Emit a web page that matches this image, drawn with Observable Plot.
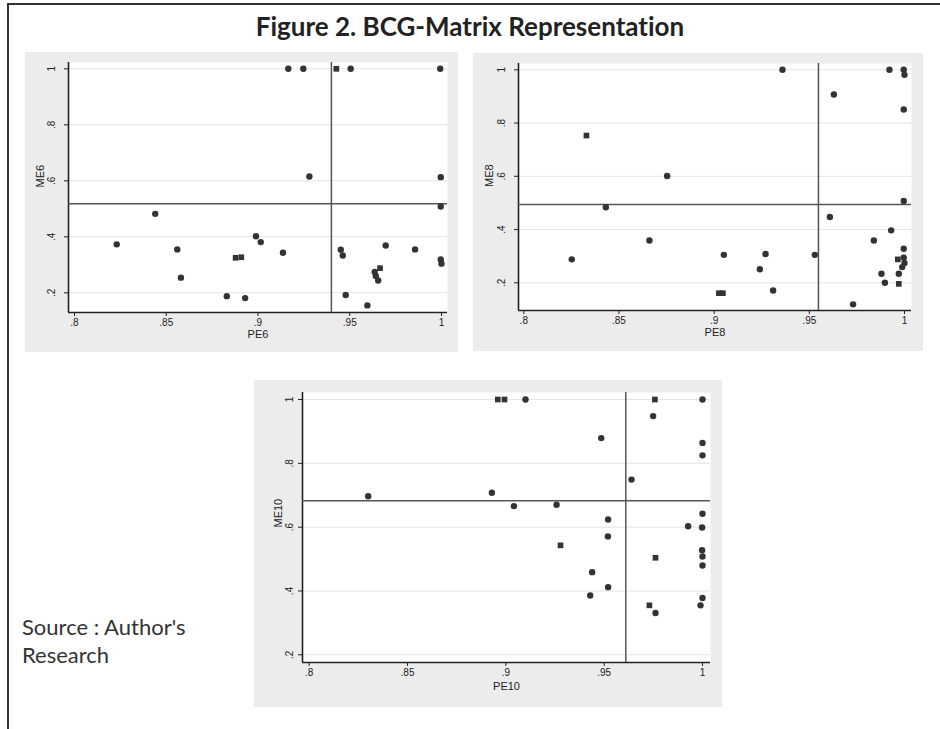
<!DOCTYPE html>
<html><head><meta charset="utf-8">
<script src="https://cdn.jsdelivr.net/npm/d3@7"></script>
<script src="https://cdn.jsdelivr.net/npm/@observablehq/plot@0.6"></script>
<style>
html,body{margin:0;padding:0;background:#fff}
body{width:940px;height:729px;overflow:hidden;position:relative}
#border{position:absolute;left:7px;top:3px;width:1000px;height:800px;border-left:2.5px solid #333;border-top:2.5px solid #333}
#title{position:absolute;left:0;top:12px;width:940px;text-align:center;font:bold 26px Lato,sans-serif;line-height:28px;color:#222;font-variant-ligatures:none}
#src{position:absolute;left:22px;top:613px;font:22px Lato,sans-serif;line-height:28px;color:#333}
.panel{position:absolute}
</style></head>
<body>
<div id="border"></div>
<div id="title">Figure 2. BCG-Matrix Representation</div>
<div id="p1" class="panel" style="left:25px;top:52px"></div>
<div id="p2" class="panel" style="left:473px;top:53px"></div>
<div id="p3" class="panel" style="left:254px;top:380px"></div>
<div id="src">Source : Author's<br>Research</div>
<script>
// Tick labels
const xTicks = [0.8, 0.85, 0.9, 0.95, 1];
const yTicks = [0.2, 0.4, 0.6, 0.8, 1];

// Panel 1: PE6 vs ME6
const pe6 = [0.9165,0.9247,0.9427,0.9505,0.9993,0.928,0.9996,0.9996,0.844,0.823,0.856,0.858,0.883,0.893,0.8878,0.8909,0.8989,0.9015,0.9136,0.9451,0.9462,0.9478,0.9596,0.9636,0.9665,0.9642,0.9655,0.9696,0.9856,0.9996,1.0];
const me6 = [1,1,1,1,1,0.6155,0.613,0.508,0.482,0.373,0.355,0.254,0.188,0.181,0.325,0.327,0.402,0.381,0.343,0.354,0.333,0.192,0.155,0.274,0.288,0.26,0.244,0.369,0.355,0.319,0.304];
const sym6 = ["circle","circle","square","circle","circle","circle","circle","circle","circle","circle","circle","circle","circle","circle","square","square","circle","circle","circle","circle","circle","circle","circle","circle","square","circle","circle","circle","circle","circle","circle"];
const cut6 = {pe: 0.94, me: 0.518};

// Panel 2: PE8 vs ME8
const pe8 = [0.9359,0.9921,0.9996,1.0,0.9629,0.9996,0.8329,0.8753,0.8431,0.9996,0.9608,0.866,0.993,0.9839,0.8252,0.9051,0.927,0.924,0.931,0.9025,0.9046,0.9529,0.973,0.9879,0.9897,0.997,0.997,0.9996,0.9965,0.9996,1.0,0.9988];
const me8 = [1,1,1,0.981,0.907,0.851,0.753,0.601,0.484,0.507,0.447,0.359,0.397,0.359,0.288,0.305,0.308,0.251,0.171,0.161,0.161,0.305,0.119,0.234,0.2,0.234,0.196,0.328,0.288,0.294,0.274,0.259];
const sym8 = ["circle","circle","circle","circle","circle","circle","square","circle","circle","circle","circle","circle","circle","circle","circle","circle","circle","circle","circle","square","square","circle","circle","circle","circle","circle","square","circle","square","circle","circle","circle"];
const cut8 = {pe: 0.9548, me: 0.494};

// Panel 3: PE10 vs ME10
const pe10 = [0.8959,0.8993,0.91,0.9758,1.0,0.9749,0.9485,1.0,1.0,0.9639,0.83,0.8929,0.9041,0.9258,0.952,0.9519,0.9278,1.0,0.9927,0.9998,0.9998,1.0,1.0,0.9761,0.9439,0.952,0.9429,0.973,0.9761,1.0,0.999];
const me10 = [1,1,1,1,1,0.948,0.879,0.864,0.825,0.749,0.697,0.708,0.666,0.670,0.624,0.571,0.543,0.642,0.603,0.599,0.528,0.508,0.48,0.504,0.459,0.412,0.386,0.355,0.331,0.378,0.355];
const sym10 = ["square","square","circle","square","circle","circle","circle","circle","circle","circle","circle","circle","circle","circle","circle","circle","square","circle","circle","circle","circle","circle","circle","square","circle","circle","circle","square","circle","circle","circle"];
const cut10 = {pe: 0.961, me: 0.6825};

const fmt = d => d === 1 ? "1" : String(d).replace(/^0/, "");

function panel(el, cfg) {
  const pts = cfg.pe.map((p, i) => ({pe: p, me: cfg.me[i], s: cfg.sym[i]}));
  const chart = Plot.plot({
    width: cfg.w, height: cfg.h,
    marginLeft: cfg.m[0], marginRight: cfg.m[1], marginTop: cfg.m[2], marginBottom: cfg.m[3],
    style: {background: "#ececec", fontFamily: "Liberation Sans, Arial, sans-serif", fontSize: "10px", color: "#222"},
    x: {domain: cfg.xd},
    y: {domain: cfg.yd},
    marks: [
      Plot.frame({fill: "white", stroke: null}),
      Plot.gridY(yTicks, {stroke: "#e4e4e4", strokeOpacity: 1, strokeWidth: 1}),
      Plot.axisX({ticks: xTicks, tickFormat: fmt, tickSize: 4, tickPadding: 2, label: null, stroke: "#222"}),
      Plot.axisY({ticks: yTicks, tickFormat: fmt, tickSize: 4, tickPadding: cfg.yPad, tickRotate: -90, textAnchor: "middle", lineAnchor: "middle", label: null, stroke: "#222"}),
      Plot.ruleX([cfg.xd[0]], {stroke: "#222", strokeWidth: 1.6}),
      Plot.ruleY([cfg.yd[0]], {stroke: "#222", strokeWidth: 1.6}),
      Plot.ruleX([cfg.cut.pe], {stroke: "#555", strokeWidth: 1.5}),
      Plot.ruleY([cfg.cut.me], {stroke: "#555", strokeWidth: 1.5}),
      Plot.dot(pts, {x: "pe", y: "me", symbol: "s", fill: "#333", stroke: null, r: 3.2}),
      Plot.text([cfg.xl], {frameAnchor: "bottom", dy: cfg.xlOff, lineAnchor: "middle", fontSize: 11, fill: "#222"}),
      Plot.text([cfg.yl], {frameAnchor: "left", dx: -cfg.ylOff, rotate: -90, lineAnchor: "middle", fontSize: 11, fill: "#222"})
    ]
  });
  document.getElementById(el).appendChild(chart);
}

panel("p1", {pe: pe6, me: me6, sym: sym6, cut: cut6, xl: "PE6", yl: "ME6",
  w: 433, h: 300, m: [43, 11, 10, 40], xd: [0.79673, 1.00327], yd: [0.1296, 1.0225], yPad: 13, xlOff: 22, ylOff: 28});
panel("p2", {pe: pe8, me: me8, sym: sym8, cut: cut8, xl: "PE8", yl: "ME8",
  w: 450, h: 298, m: [45, 12, 10, 41], xd: [0.79722, 1.00368], yd: [0.09596, 1.02366], yPad: 13, xlOff: 22, ylOff: 29});
panel("p3", {pe: pe10, me: me10, sym: sym10, cut: cut10, xl: "PE10", yl: "ME10",
  w: 468, h: 327, m: [48, 12, 12, 45], xd: [0.79659, 1.00407], yd: [0.17587, 1.02194], yPad: 9, xlOff: 24, ylOff: 24});
</script>
</body></html>
